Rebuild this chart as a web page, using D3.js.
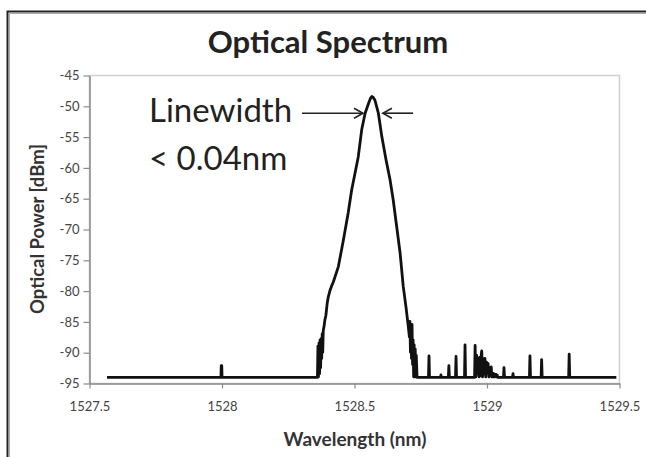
<!DOCTYPE html>
<html><head><meta charset="utf-8">
<script src="https://cdn.jsdelivr.net/npm/d3@7"></script>
<style>
html,body{margin:0;padding:0;background:#fff;}
svg{display:block;font-family:Lato,"Open Sans",sans-serif;}
</style></head>
<body>
<div id="chart"></div>
<script>
const title = "Optical Spectrum";
const xLabel = "Wavelength (nm)";
const yLabel = "Optical Power [dBm]";
const annotationLines = ["Linewidth", "< 0.04nm"];
const xTicks = [1527.5, 1528, 1528.5, 1529, 1529.5];
const yTicks = [-45, -50, -55, -60, -65, -70, -75, -80, -85, -90, -95];

// spectrum trace (wavelength nm, power dBm)
const wavelength = [
 1527.568, 1527.998, 1527.999, 1528.000, 1528.001, 1528.002,
 1528.362, 1528.364, 1528.366, 1528.368, 1528.370, 1528.372, 1528.374, 1528.376, 1528.378, 1528.380, 1528.382, 1528.384, 1528.387,
 1528.390, 1528.394, 1528.399, 1528.403, 1528.410, 1528.416, 1528.422, 1528.441, 1528.460, 1528.478, 1528.491, 1528.504, 1528.516,
 1528.529, 1528.542, 1528.555, 1528.562, 1528.567, 1528.572, 1528.579, 1528.592, 1528.605, 1528.621, 1528.636, 1528.648,
 1528.661, 1528.674, 1528.686, 1528.696, 1528.705, 1528.709, 1528.711, 1528.713, 1528.715, 1528.717, 1528.719, 1528.721, 1528.723,
 1528.725, 1528.727, 1528.729, 1528.731, 1528.733, 1528.735, 1528.738,
 1528.781, 1528.783, 1528.785,
 1528.826, 1528.828, 1528.830,
 1528.856, 1528.858, 1528.860,
 1528.883, 1528.885, 1528.887,
 1528.917, 1528.919, 1528.921,
 1528.955, 1528.957, 1528.960, 1528.963, 1528.966, 1528.969, 1528.972, 1528.975, 1528.978, 1528.980, 1528.982, 1528.985,
 1528.988, 1528.991, 1528.994, 1528.997, 1529.000, 1529.003, 1529.006, 1529.009, 1529.012, 1529.015, 1529.018, 1529.020,
 1529.023, 1529.026, 1529.029, 1529.032, 1529.035, 1529.038, 1529.040, 1529.043,
 1529.064, 1529.066, 1529.068,
 1529.098, 1529.100, 1529.102,
 1529.162, 1529.164, 1529.166,
 1529.206, 1529.208, 1529.210,
 1529.310, 1529.312, 1529.314,
 1529.490
];
const power = [
 -94.1, -94.1, -92.2, -92.2, -92.2, -94.1,
 -94.1, -89.0, -94.0, -88.5, -93.5, -88.0, -92.5, -87.8, -91.0, -87.0, -90.0, -86.5, -85.8,
 -84.8, -84.0, -82.0, -81.0, -79.9, -79.2, -78.6, -76.1, -71.8, -67.4, -63.7, -60.9, -58.3,
 -53.9, -51.2, -49.6, -48.8, -48.5, -48.6, -49.1, -51.2, -55.0, -58.8, -62.0, -65.3,
 -69.6, -73.9, -79.4, -82.6, -85.9, -87.5, -85.0, -90.0, -86.0, -91.0, -85.5, -92.0, -88.0,
 -94.0, -88.8, -94.0, -89.5, -94.0, -90.5, -94.1,
 -94.1, -90.6, -94.1,
 -94.1, -93.7, -94.1,
 -94.1, -92.2, -94.1,
 -94.1, -90.7, -94.1,
 -94.1, -88.8, -94.1,
 -94.1, -88.9, -94.0, -90.5, -93.5, -91.0, -94.0, -90.8, -93.8, -90.5, -89.8, -94.0,
 -91.1, -93.5, -91.0, -94.0, -91.6, -93.2, -91.8, -94.0, -92.5, -93.6, -92.4, -94.0,
 -93.4, -94.0, -93.5, -94.0, -93.6, -94.0, -93.7, -94.1,
 -94.1, -92.5, -94.1,
 -94.1, -93.5, -94.1,
 -94.1, -90.6, -94.1,
 -94.1, -91.2, -94.1,
 -94.1, -90.3, -94.1,
 -94.1
];

const W = 646, H = 457;
const margin = {left: 89, right: 27, top: 75, bottom: 74};

const svg = d3.select("#chart").append("svg").attr("width", W).attr("height", H);

// outer frame
svg.append("path").attr("d", "M7.5,470 V11.5 H700").attr("fill", "none").attr("stroke", "#222").attr("stroke-width", 2);
svg.append("path").attr("d", "M9.5,470 V13.5 H700").attr("fill", "none").attr("stroke", "#aaa").attr("stroke-width", 1);

const x = d3.scaleLinear().domain([1527.5, 1529.5]).range([margin.left, W - margin.right]);
const y = d3.scaleLinear().domain([-95, -45]).range([H - margin.bottom, margin.top]);

// plot border
svg.append("rect").attr("x", x(1527.5) + 0.5).attr("y", y(-45) + 0.5)
  .attr("width", x(1529.5) - x(1527.5)).attr("height", y(-95) - y(-45))
  .attr("fill", "none").attr("stroke", "#cfcfcf").attr("stroke-width", 1.5);

// y axis
const yAxis = svg.append("g").attr("transform", `translate(${x(1527.5) + 0.5},0.5)`)
  .call(d3.axisLeft(y).tickValues(yTicks).tickSize(6).tickSizeOuter(0).tickFormat(d => String(d)));
yAxis.select(".domain").attr("stroke", "#8a8a8a").attr("stroke-width", 1.5);
yAxis.selectAll(".tick line").attr("stroke", "#8a8a8a").attr("stroke-width", 1.2);
yAxis.selectAll(".tick text").attr("font-family", "Lato, sans-serif").attr("font-size", 13).attr("fill", "#444").attr("x", -10);

// x axis
const xAxis = svg.append("g").attr("transform", `translate(0.5,${y(-95) + 0.5})`)
  .call(d3.axisBottom(x).tickValues(xTicks).tickSize(5).tickSizeOuter(0).tickFormat(d => String(d)));
xAxis.select(".domain").attr("stroke", "#8a8a8a").attr("stroke-width", 1.5);
xAxis.selectAll(".tick line").attr("stroke", "#8a8a8a").attr("stroke-width", 1.2);
xAxis.selectAll(".tick text").attr("font-family", "Lato, sans-serif").attr("font-size", 13).attr("fill", "#444").attr("y", 18);

// spectrum line
const pts = wavelength.map((w, i) => [w, power[i]]);
svg.append("path").datum(pts)
  .attr("d", d3.line().x(d => x(d[0])).y(d => y(d[1])))
  .attr("fill", "none").attr("stroke", "#111").attr("stroke-width", 2.8).attr("stroke-linejoin", "round");

// titles
svg.append("text").attr("x", 328).attr("y", 53).attr("text-anchor", "middle")
  .attr("font-size", 31).attr("font-weight", "bold").attr("fill", "#222").text(title);
svg.append("text").attr("x", 355).attr("y", 446).attr("text-anchor", "middle")
  .attr("font-size", 19).attr("font-weight", "bold").attr("fill", "#333").text(xLabel);
svg.append("text").attr("transform", "translate(44,229) rotate(-90)").attr("text-anchor", "middle")
  .attr("font-size", 18.5).attr("font-weight", "bold").attr("fill", "#333").text(yLabel);

// annotation
svg.append("text").attr("x", 149).attr("y", 122).attr("font-size", 33).attr("fill", "#222").text(annotationLines[0]);
svg.append("text").attr("x", 149).attr("y", 170).attr("font-size", 33).attr("fill", "#222").text(annotationLines[1]);

// arrows
const ay = y(-51.2);
function arrow(x1, x2) {
  const dir = Math.sign(x2 - x1);
  svg.append("line").attr("x1", x1).attr("y1", ay).attr("x2", x2).attr("y2", ay)
    .attr("stroke", "#222").attr("stroke-width", 1.6);
  svg.append("path").attr("d", `M${x2 - dir * 9},${ay - 5} L${x2},${ay} L${x2 - dir * 9},${ay + 5}`)
    .attr("fill", "none").attr("stroke", "#222").attr("stroke-width", 1.6);
}
arrow(x(1528.304), x(1528.534));
arrow(x(1528.723), x(1528.609));
</script>
</body></html>
